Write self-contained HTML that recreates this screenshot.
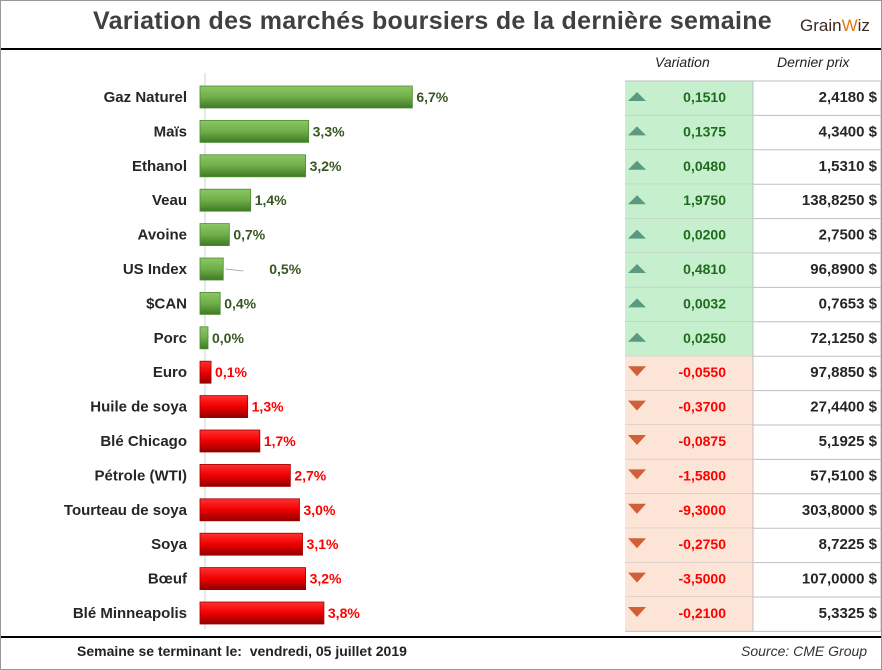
<!DOCTYPE html>
<html><head><meta charset="utf-8">
<style>
body{margin:0;background:#fff;font-family:"Liberation Sans",sans-serif;}
#wrap{position:relative;width:880px;height:668px;border:1px solid #999;overflow:hidden;background:#fff;}
.t{position:absolute;white-space:nowrap;}
</style></head><body>
<div id="wrap">
<div class="t" style="left:92px;top:6px;font-size:25px;font-weight:bold;color:#404040;letter-spacing:0.3px">Variation des marchés boursiers de la dernière semaine</div>
<div class="t" style="left:799px;top:15px;font-size:17px;color:#3a2a20">Grain<span style="color:#e07a10">W</span>iz</div>
<div style="position:absolute;left:0;top:47px;width:880px;height:2px;background:#000"></div>
<div class="t" style="left:654px;top:53px;font-size:14px;font-style:italic;color:#222">Variation</div>
<div class="t" style="left:776px;top:53px;font-size:14px;font-style:italic;color:#222">Dernier prix</div>
<svg id="svg" width="880" height="668" style="position:absolute;left:0;top:0"></svg>
<div style="position:absolute;left:0;top:635px;width:880px;height:2px;background:#000"></div>
<div class="t" style="left:76px;top:642px;font-size:14px;font-weight:bold;color:#222">Semaine se terminant le:&nbsp; vendredi, 05 juillet 2019</div>
<div class="t" style="left:740px;top:642px;font-size:14px;font-style:italic;color:#333">Source: CME Group</div>
</div>
<script>
const categories=["Gaz Naturel","Maïs","Ethanol","Veau","Avoine","US Index","$CAN","Porc","Euro","Huile de soya","Blé Chicago","Pétrole (WTI)","Tourteau de soya","Soya","Bœuf","Blé Minneapolis"];
const pctValues=[6.7,3.3,3.2,1.4,0.7,0.5,0.4,0.0,-0.1,-1.3,-1.7,-2.7,-3.0,-3.1,-3.2,-3.8];
const variations=["0,1510","0,1375","0,0480","1,9750","0,0200","0,4810","0,0032","0,0250","-0,0550","-0,3700","-0,0875","-1,5800","-9,3000","-0,2750","-3,5000","-0,2100"];
const prices=["2,4180 $","4,3400 $","1,5310 $","138,8250 $","2,7500 $","96,8900 $","0,7653 $","72,1250 $","97,8850 $","27,4400 $","5,1925 $","57,5100 $","303,8000 $","8,7225 $","107,0000 $","5,3325 $"];
const NS="http://www.w3.org/2000/svg";
const svg=document.getElementById('svg');
const x0=199,rowTop=80,rowH=34.4;
function xs(v){return 8+Math.abs(v)*30.5;}
function yc(i){return rowTop+rowH*i+16;}
function mk(tag,attrs,parent){const e=document.createElementNS(NS,tag);for(const k in attrs)e.setAttribute(k,attrs[k]);(parent||svg).appendChild(e);return e;}
const defs=mk('defs',{});
defs.innerHTML='<linearGradient id="gg" x1="0" y1="0" x2="0" y2="1"><stop offset="0" stop-color="#8cc866"/><stop offset="0.5" stop-color="#6fae48"/><stop offset="1" stop-color="#3f7a26"/></linearGradient><linearGradient id="rg" x1="0" y1="0" x2="0" y2="1"><stop offset="0" stop-color="#ff3030"/><stop offset="0.5" stop-color="#f00000"/><stop offset="1" stop-color="#900000"/></linearGradient>';
const axis=mk('line',{x1:x0+5,y1:72,x2:x0+5,y2:628,stroke:'#d0d0d0','stroke-width':1});


// table columns background
for(let i=0;i<categories.length;i++){
  const pos=pctValues[i]>=0 || (i<8);
  const top=rowTop+rowH*i;
  const cell=mk('rect',{x:624,y:top,width:128,height:rowH,fill:pos?'#c6efce':'#fce4d6'});
  
  
  mk('line',{x1:624,y1:top+rowH,x2:880,y2:top+rowH,stroke:'#bfbfbf','stroke-width':1});
  const y=yc(i);
  const lbl=mk('text',{x:186,y:y+5,'text-anchor':'end','font-size':15,'font-weight':'bold',fill:'#262626','font-family':'Liberation Sans, sans-serif'});
  lbl.textContent=categories[i];
  
  
  const w=xs(pctValues[i]);
  const bar=mk('rect',{x:x0,y:y-11,width:w,height:22,fill:pos?'url(#gg)':'url(#rg)',stroke:pos?'#4e8a30':'#a00000','stroke-width':0.8});
  
  
  let lx=x0+w+4;
  if(i===5){lx=x0+w+46;mk('line',{x1:x0+w+2,y1:y,x2:x0+w+20,y2:y+2,stroke:'#999','stroke-width':0.8});}
  const vl=mk('text',{x:lx,y:y+5,'font-size':14,'font-weight':'bold',fill:pos?'#375623':'#ff0000','font-family':'Liberation Sans, sans-serif'});
  vl.textContent=Math.abs(pctValues[i]).toFixed(1).replace('.',',')+'%';
  
  
  const ar=pos?mk('polygon',{points:`${627},${y+4} ${645},${y+4} ${636},${y-5}`,fill:'#5a9a80'}):mk('polygon',{points:`${627},${y-6} ${645},${y-6} ${636},${y+4}`,fill:'#d0603a'});
  
  
  const vt=mk('text',{x:725,y:y+5,'text-anchor':'end','font-size':14,'font-weight':'bold',fill:pos?'#1e6b1e':'#ff0000','font-family':'Liberation Sans, sans-serif'});
  vt.textContent=variations[i];
  
  
  const pt=mk('text',{x:876,y:y+5,'text-anchor':'end','font-size':15,'font-weight':'bold',fill:'#262626','font-family':'Liberation Sans, sans-serif'});
  pt.textContent=prices[i];
  
  
}
mk('line',{x1:624,y1:rowTop,x2:880,y2:rowTop,stroke:'#bfbfbf','stroke-width':1});
mk('line',{x1:752,y1:rowTop,x2:752,y2:rowTop+rowH*16,stroke:'#bfbfbf','stroke-width':1});
mk('line',{x1:880,y1:rowTop,x2:880,y2:rowTop+rowH*16,stroke:'#bfbfbf','stroke-width':1});
</script>
</body></html>
